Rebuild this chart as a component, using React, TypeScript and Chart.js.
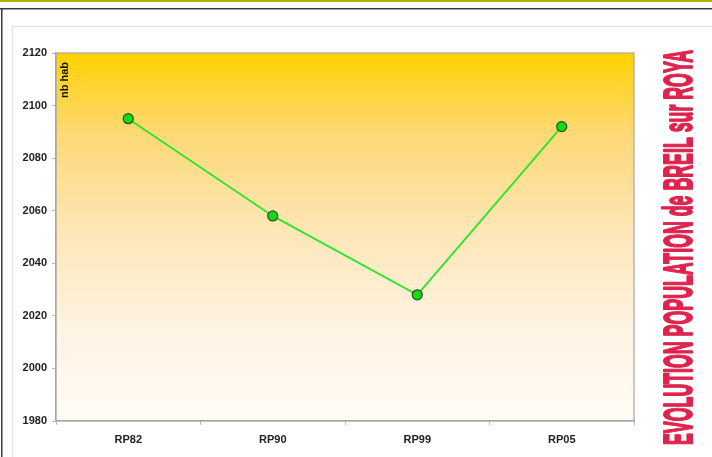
import React, { useEffect, useRef } from "react";
import { Chart, registerables } from "chart.js";

Chart.register(...registerables);

// Census rounds and population counts (inhabitants)
const censusLabels: string[] = ["RP82", "RP90", "RP99", "RP05"];
const population: number[] = [2095, 2058, 2028, 2092];
const yMin = 1980;
const yMax = 2120;
const yStep = 20;

const chartTitle = "EVOLUTION POPULATION de BREIL sur ROYA";
const yAxisTitle = "nb hab";

const W = 712;
const H = 457;

const framePlugin = {
  id: "frameAndBackground",
  beforeDraw(chart: any) {
    const { ctx, chartArea } = chart;
    ctx.save();
    ctx.fillStyle = "#ffffff";
    ctx.fillRect(0, 0, W, H);
    // top olive rule
    ctx.fillStyle = "#b2b000";
    ctx.fillRect(0, 0, W, 2);
    // dark outer frame
    ctx.fillStyle = "#3a3a3a";
    ctx.fillRect(0, 8, W, 1.5);
    ctx.fillRect(1, 8, 1.5, H - 8);
    // light inner panel outline
    ctx.strokeStyle = "#e4e4e4";
    ctx.lineWidth = 1.5;
    ctx.strokeRect(12.5, 26.5, W + 20, H + 20);
    // plot area gradient
    const g = ctx.createLinearGradient(0, chartArea.top, 0, chartArea.bottom);
    g.addColorStop(0, "#ffd200");
    g.addColorStop(0.22, "#fdd876");
    g.addColorStop(0.48, "#fde6b6");
    g.addColorStop(0.75, "#fff3e2");
    g.addColorStop(1, "#fffcf6");
    ctx.fillStyle = g;
    ctx.fillRect(chartArea.left, chartArea.top, chartArea.right - chartArea.left, chartArea.bottom - chartArea.top);
    ctx.restore();
  },
  beforeDatasetsDraw(chart: any) {
    const { ctx, chartArea } = chart;
    ctx.save();
    ctx.strokeStyle = "#a6a6a6";
    ctx.lineWidth = 1.2;
    ctx.strokeRect(chartArea.left, chartArea.top, chartArea.right - chartArea.left, chartArea.bottom - chartArea.top);
    // axis title inside the plot
    ctx.translate(chartArea.left + 11.5, chartArea.top + 27);
    ctx.rotate(-Math.PI / 2);
    ctx.fillStyle = "#111111";
    ctx.font = "bold 11px 'Liberation Sans', Arial, sans-serif";
    ctx.textAlign = "center";
    ctx.textBaseline = "alphabetic";
    ctx.fillText(yAxisTitle, 0, 0);
    ctx.restore();
  },
  afterDraw(chart: any) {
    const { ctx } = chart;
    ctx.save();
    ctx.translate(692, 247.5);
    ctx.rotate(-Math.PI / 2);
    ctx.font = "bold 40px 'Liberation Sans', Arial, sans-serif";
    const w = ctx.measureText(chartTitle).width;
    const target = 395;
    ctx.scale(target / w, 1);
    ctx.fillStyle = "#e0234c";
    ctx.strokeStyle = "#e0234c";
    ctx.lineWidth = 2;
    ctx.lineJoin = "round";
    ctx.textAlign = "center";
    ctx.textBaseline = "alphabetic";
    ctx.strokeText(chartTitle, 0, -0.5);
    ctx.fillText(chartTitle, 0, -0.5);
    ctx.restore();
  },
};

export default function App() {
  const ref = useRef<HTMLCanvasElement | null>(null);

  useEffect(() => {
    if (!ref.current) return;
    const tickFont = { family: "'Liberation Sans', Arial, sans-serif", size: 11, weight: "bold" as const };
    const chart = new Chart(ref.current, {
      type: "line",
      data: {
        labels: censusLabels,
        datasets: [
          {
            data: population,
            borderColor: "#2ee62e",
            borderWidth: 2,
            pointRadius: 5,
            pointHoverRadius: 5,
            pointBackgroundColor: "#10dc10",
            pointBorderColor: "#2c4a2c",
            pointBorderWidth: 1.2,
            tension: 0,
            fill: false,
          },
        ],
      },
      options: {
        responsive: false,
        animation: false,
        layout: { padding: { left: 0, top: 53, right: 78, bottom: 0 } },
        plugins: {
          legend: { display: false },
          tooltip: { enabled: false },
          title: { display: false },
        },
        scales: {
          x: {
            type: "category",
            offset: true,
            grid: { offset: true, drawOnChartArea: false, drawTicks: true, tickLength: 4, color: "#b8b8b8" },
            border: { display: true, color: "#a6a6a6", width: 1.2 },
            ticks: { font: tickFont, color: "#222222", padding: 8, maxRotation: 0 },
            afterFit: (s: any) => {
              s.height = 36;
            },
          },
          y: {
            min: yMin,
            max: yMax,
            grid: { drawOnChartArea: false, drawTicks: true, tickLength: 4, color: "#b8b8b8" },
            border: { display: true, color: "#a6a6a6", width: 1.2 },
            ticks: {
              stepSize: yStep,
              font: tickFont,
              color: "#222222",
              padding: 5,
              callback: (v: any) => String(v),
            },
            afterFit: (s: any) => {
              s.width = 56;
            },
          },
        },
      },
      plugins: [framePlugin],
    });
    return () => chart.destroy();
  }, []);

  return (
    <div style={{ position: "fixed", left: 0, top: 0, width: W, height: H }}>
      <canvas ref={ref} width={W} height={H} style={{ width: W, height: H, display: "block" }} />
    </div>
  );
}
